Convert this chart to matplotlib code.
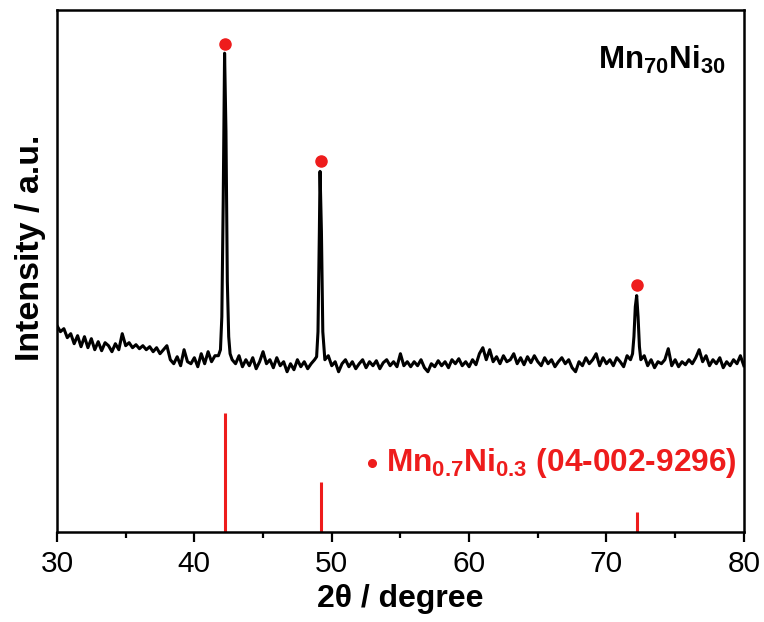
#!/usr/bin/env python3
"""XRD pattern of Mn70Ni30 with Mn0.7Ni0.3 reference sticks."""

import numpy as np
import matplotlib
matplotlib.use("Agg")
import matplotlib.pyplot as plt

plt.rcParams['font.family'] = ['Liberation Sans', 'DejaVu Sans']
plt.rcParams['mathtext.fontset'] = 'custom'
plt.rcParams['mathtext.rm'] = 'Liberation Sans'
plt.rcParams['mathtext.bf'] = 'Liberation Sans:bold'

# measured pattern (2theta in degree, intensity in a.u.)
two_theta = [
    30.0, 30.25, 30.5, 30.75, 31.0, 31.25, 31.5, 31.75, 32.0, 32.25, 32.5, 32.75,
    33.0, 33.25, 33.5, 33.75, 34.0, 34.25, 34.5, 34.75, 35.0, 35.25, 35.5, 35.75,
    36.0, 36.25, 36.5, 36.75, 37.0, 37.25, 37.5, 37.75, 38.0, 38.25, 38.5, 38.75,
    39.0, 39.25, 39.5, 39.75, 40.0, 40.25, 40.5, 40.75, 41.0, 41.25, 41.5, 41.75,
    41.9, 42.0, 42.1, 42.2, 42.3, 42.4, 42.5, 42.6, 42.75,
    43.0, 43.25, 43.5, 43.75, 44.0, 44.25, 44.5, 44.75, 45.0, 45.25, 45.5, 45.75,
    46.0, 46.25, 46.5, 46.75, 47.0, 47.25, 47.5, 47.75, 48.0, 48.25, 48.5, 48.75,
    48.9, 49.0, 49.1, 49.15, 49.25, 49.35, 49.5, 49.75,
    50.0, 50.25, 50.5, 50.75, 51.0, 51.25, 51.5, 51.75, 52.0, 52.25, 52.5, 52.75,
    53.0, 53.25, 53.5, 53.75, 54.0, 54.25, 54.5, 54.75, 55.0, 55.25, 55.5, 55.75,
    56.0, 56.25, 56.5, 56.75, 57.0, 57.25, 57.5, 57.75, 58.0, 58.25, 58.5, 58.75,
    59.0, 59.25, 59.5, 59.75, 60.0, 60.25, 60.5, 60.75, 61.0, 61.25, 61.5, 61.75,
    62.0, 62.25, 62.5, 62.75, 63.0, 63.25, 63.5, 63.75, 64.0, 64.25, 64.5, 64.75,
    65.0, 65.25, 65.5, 65.75, 66.0, 66.25, 66.5, 66.75, 67.0, 67.25, 67.5, 67.75,
    68.0, 68.25, 68.5, 68.75, 69.0, 69.25, 69.5, 69.75, 70.0, 70.25, 70.5, 70.75,
    71.0, 71.25, 71.5, 71.75, 71.9, 72.0, 72.1, 72.2, 72.3, 72.4, 72.5, 72.75,
    73.0, 73.25, 73.5, 73.75, 74.0, 74.25, 74.5, 74.75, 75.0, 75.25, 75.5, 75.75,
    76.0, 76.25, 76.5, 76.75, 77.0, 77.25, 77.5, 77.75, 78.0, 78.25, 78.5, 78.75,
    79.0, 79.25, 79.5, 79.75, 80.0,
]
intensity = [
    206, 200, 203, 194, 198, 188, 196, 185, 195, 184, 193, 182,
    190, 181, 189, 186, 180, 188, 182, 198, 186, 189, 184, 187,
    183, 186, 182, 185, 180, 184, 178, 182, 186, 172, 168, 175,
    166, 182, 170, 168, 174, 165, 178, 168, 180, 170, 176, 176,
    182, 215, 330, 478, 400, 250, 195, 178, 172,
    168, 176, 165, 172, 166, 174, 163, 170, 180, 168, 172, 164,
    174, 166, 170, 160, 168, 162, 172, 165, 170, 163, 168, 172,
    175, 200, 300, 360, 300, 200, 172, 176,
    166, 170, 160, 168, 172, 165, 170, 163, 168, 172, 164, 170,
    166, 171, 163, 169, 172, 166, 170, 165, 178, 166, 170, 165,
    170, 166, 172, 164, 160, 168, 165, 171, 166, 170, 164, 172,
    168, 173, 166, 170, 165, 172, 167, 178, 184, 172, 182, 170,
    175, 168, 176, 170, 172, 178, 168, 174, 167, 175, 169, 176,
    170, 166, 174, 168, 172, 165, 170, 174, 168, 172, 164, 160,
    170, 166, 174, 168, 172, 178, 166, 174, 168, 172, 166, 174,
    170, 165, 176, 172, 178, 195, 225, 236, 215, 185, 172, 176,
    166, 172, 164, 170, 168, 172, 183, 166, 172, 165, 170, 167,
    172, 168, 174, 182, 170, 176, 166, 172, 168, 174, 164, 170,
    166, 172, 168, 176, 166,
]

# reference card 04-002-9296 (Mn0.7Ni0.3)
ref_positions = [42.25, 49.25, 72.25]
ref_heights = [119, 50, 20]

# peak markers
dot_positions = [42.2, 49.2, 72.2]
dot_heights = [487, 370, 247]

RED = '#ee1c1c'

fig = plt.figure(figsize=(7.64, 6.22), dpi=100)
ax = fig.add_axes([0.0746, 0.1447, 0.899, 0.839])

ax.plot(two_theta, intensity, color='black', lw=2.2)
ax.vlines(ref_positions, 0, ref_heights, color=RED, lw=2.2)
ax.plot(dot_positions, dot_heights, 'o', color=RED, ms=8)

ax.set_xlim(30, 80)
ax.set_ylim(0, 521)
ax.set_xticks(np.arange(30, 81, 10))
ax.set_xticks(np.arange(35, 80, 10), minor=True)
ax.set_yticks([])
ax.tick_params(axis='x', which='major', direction='out', length=7, width=1.6,
               labelsize=21.5, pad=6)
ax.tick_params(axis='x', which='minor', direction='out', length=4, width=1.6)
for sp in ax.spines.values():
    sp.set_linewidth(1.8)

ax.set_xlabel('2θ / degree', fontsize=23, fontweight='bold', labelpad=4)
ax.set_ylabel('Intensity / a.u.', fontsize=24.5, fontweight='bold')
ax.yaxis.set_label_coords(-0.016, 0.545)

ax.text(0.973, 0.905, r'$\mathbf{Mn_{70}Ni_{30}}$', transform=ax.transAxes,
        ha='right', va='center', fontsize=22.5)
ax.plot([0.458], [0.133], 'o', color=RED, ms=5.5, transform=ax.transAxes)
ax.text(0.479, 0.133, r'$\mathbf{Mn_{0.7}Ni_{0.3}}$ (04-002-9296)',
        transform=ax.transAxes, ha='left', va='center', fontsize=22.8,
        fontweight='bold', color=RED)

fig.savefig('out.png', dpi=100)
